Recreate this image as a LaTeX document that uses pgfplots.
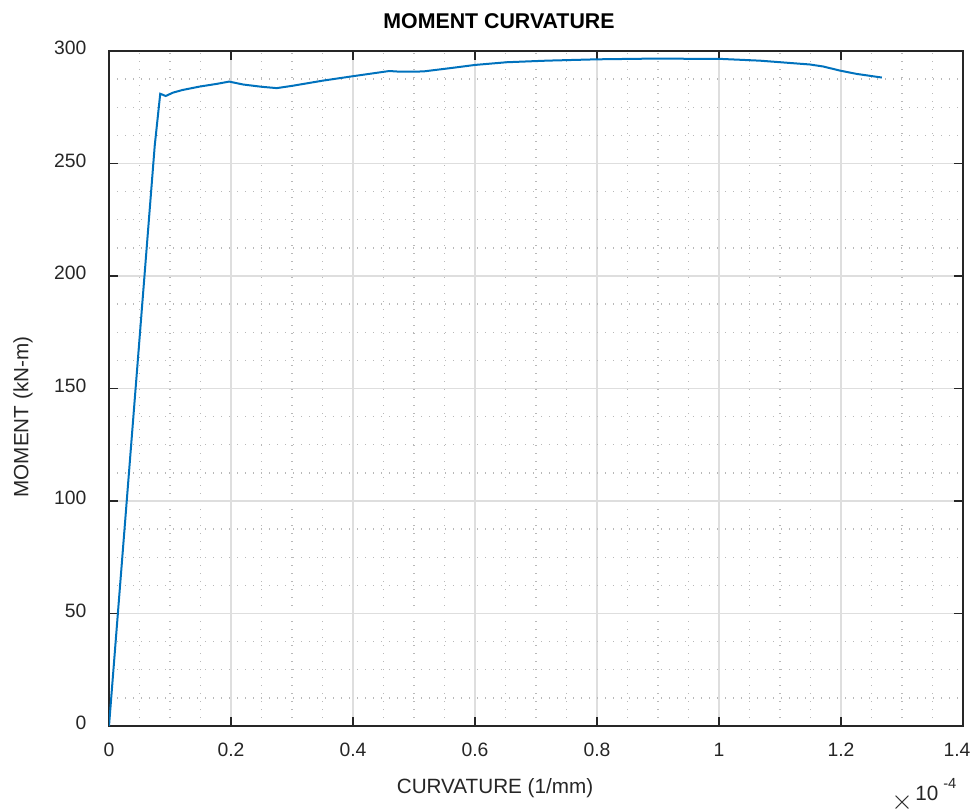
\documentclass[border=0pt]{standalone}
\usepackage{pgfplots}
\pgfplotsset{compat=1.18}
\usepackage{fontspec}
\setmainfont{Liberation Sans}
\definecolor{mblue}{RGB}{0,114,189}
\definecolor{txt}{RGB}{38,38,38}
\begin{document}
\begin{tikzpicture}
\begin{axis}[
  at={(0,0)}, anchor=south west,
  scale only axis, width=640.5pt, height=506.25pt,
  xmin=0, xmax=1.4, ymin=0, ymax=300,
  xtick={0,0.2,...,1.4}, ytick={0,50,...,300},
  minor x tick num=3, minor y tick num=3,
  xticklabels={0,0.2,0.4,0.6,0.8,1,1.2,{\hspace*{-9pt}1.4}},
  /pgf/number format/assume math mode=true,
  tick label style={font=\fontsize{14.5}{16}\selectfont, text=txt},
  xticklabel style={anchor=base, yshift=-22.5pt, inner sep=0pt},
  yticklabel style={anchor=east, xshift=-16.7pt, yshift=2pt, inner sep=0pt},
  grid=both,
  major grid style={line width=1.1pt, color=black!13},
  minor grid style={line width=1pt, color=black!28, dash pattern=on 1pt off 5pt},
  axis line style={line width=1.3pt, color=txt},
  tick style={line width=1.3pt, color=txt},
  major tick length=6.5pt, minor tick length=0pt,
  tick align=inside,
  xtick pos=both, ytick pos=both,
]
\addplot[color=mblue, line width=1.5pt] coordinates {
(0,0) (0.075,258) (0.084,281) (0.093,280) (0.105,281.5) (0.121,282.7) (0.149,284.2) (0.177,285.4) (0.197,286.4)
(0.22,285.1) (0.25,284.1) (0.275,283.5) (0.30,284.5) (0.35,286.8) (0.40,288.8) (0.4595,291.1)
(0.477,290.8) (0.515,290.9) (0.56,292.4) (0.60,293.8) (0.652,295.0) (0.717,295.7) (0.80,296.3)
(0.887,296.6) (1.0016,296.5) (1.067,295.7) (1.149,294.0) (1.171,293.1) (1.198,291.3) (1.226,289.8) (1.267,288.2)
};
\end{axis}
\node[font=\bfseries\fontsize{16}{18}\selectfont, anchor=base] at (292.5pt,523.3pt) {MOMENT CURVATURE};
\node[font=\fontsize{15.5}{18}\selectfont, text=txt, anchor=base] at (289.5pt,-50.25pt) {CURVATURE (1/mm)};
\node[font=\fontsize{15.5}{18}\selectfont, text=txt, rotate=90, anchor=center] at (-64.5pt,231.75pt) {MOMENT (kN-m)};
\node[font=\fontsize{20}{22}\selectfont, text=txt, anchor=center, inner sep=0pt] at (594.75pt,-57.75pt) {$\times$};
\node[font=\fontsize{15.5}{18}\selectfont, text=txt, anchor=base west, inner sep=0pt] at (604.5pt,-55.5pt) {10};
\node[font=\fontsize{11}{13}\selectfont, text=txt, anchor=base west, inner sep=0pt] at (625.5pt,-46.5pt) {-4};
\pgfresetboundingbox
\path[use as bounding box] (-81.75pt,-63pt) rectangle (648pt,544.5pt);
\end{tikzpicture}
\end{document}
